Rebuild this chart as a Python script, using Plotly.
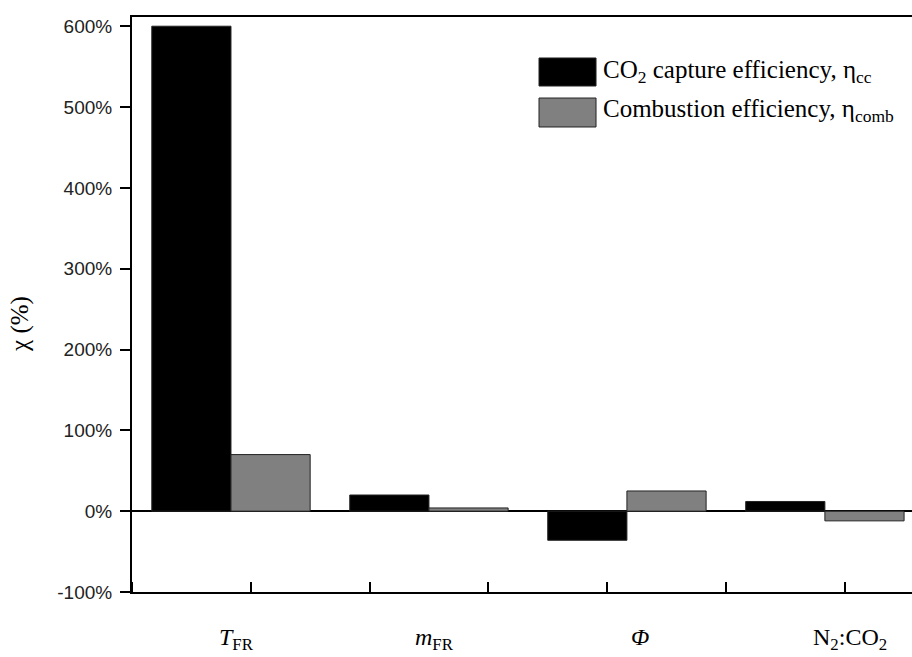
import plotly.graph_objects as go

# ---- data ----
categories = ["<i>T</i><sub>FR</sub>", "<i>m</i><sub>FR</sub>", "<i>Φ</i>", "N<sub>2</sub>:CO<sub>2</sub>"]
cat_pos = [0, 1, 2, 3]
capture_eff = [600, 20, -36, 12]      # CO2 capture efficiency, eta_cc (%)
combustion_eff = [70, 4, 25, -12]     # Combustion efficiency, eta_comb (%)
y_ticks = [-100, 0, 100, 200, 300, 400, 500, 600]
y_tick_labels = ["-100%", "0%", "100%", "200%", "300%", "400%", "500%", "600%"]
series_names = ["CO<sub>2</sub> capture efficiency, η<sub>cc</sub>",
                "Combustion efficiency, η<sub>comb</sub>"]
series_colors = ["#000000", "#808080"]
label_shift = [6, 6, 13, 25]

SERIF = "Liberation Serif, Times New Roman, serif"
SANS = "Liberation Sans, Arial, sans-serif"

fig = go.Figure()
fig.add_trace(go.Bar(x=cat_pos, y=capture_eff, name=series_names[0],
                     marker=dict(color=series_colors[0], line=dict(color="#222222", width=1)),
                     showlegend=False))
fig.add_trace(go.Bar(x=cat_pos, y=combustion_eff, name=series_names[1],
                     marker=dict(color=series_colors[1], line=dict(color="#222222", width=1)),
                     showlegend=False))

# custom legend (large swatches)
sw = [(0.880, 0.9287), (0.8087, 0.8591)]
ty = [0.906, 0.837]
for i in range(2):
    fig.add_shape(type="rect", xref="paper", yref="paper",
                  x0=0.5218, x1=0.5949, y0=sw[i][0], y1=sw[i][1],
                  fillcolor=series_colors[i], line=dict(color="#222222", width=1))
    fig.add_annotation(xref="paper", yref="paper", x=0.6013, y=ty[i],
                       xanchor="left", yanchor="middle", showarrow=False,
                       text=series_names[i], font=dict(family=SERIF, size=25, color="black"))

# category labels
for i, c in enumerate(categories):
    fig.add_annotation(xref="x", yref="paper", x=cat_pos[i], y=-0.052,
                       xanchor="center", yanchor="top", showarrow=False, xshift=label_shift[i],
                       text=c, font=dict(family=SERIF, size=24, color="black"))

# y title
fig.add_annotation(xref="paper", yref="paper", x=-0.143, y=0.467,
                   xanchor="center", yanchor="middle", showarrow=False, textangle=-90,
                   text="χ (%)", font=dict(family=SERIF, size=25, color="black"))

fig.update_layout(
    width=912, height=657,
    margin=dict(l=132, r=0, t=17, b=65),
    paper_bgcolor="white", plot_bgcolor="white",
    barmode="group", bargap=0.2, bargroupgap=0,
    xaxis=dict(range=[-0.5, 3.44], tickmode="array", tickvals=cat_pos, ticktext=["", "", "", ""],
               ticks="", showline=True, linecolor="black", linewidth=2, mirror=True,
               showgrid=False, zeroline=False,
               minor=dict(tickmode="linear", tick0=0.1, dtick=0.6, ticks="inside",
                          ticklen=10, tickwidth=2, tickcolor="black", showgrid=False)),
    yaxis=dict(range=[-100, 611.4], tickmode="array", tickvals=y_ticks, ticktext=y_tick_labels,
               ticks="outside", ticklen=10, tickwidth=2, tickcolor="black",
               showline=True, linecolor="black", linewidth=2, mirror=False,
               showgrid=False, zeroline=True, zerolinecolor="black", zerolinewidth=1.5,
               ticklabelstandoff=4,
               tickfont=dict(family=SANS, size=19, color="#222222")),
)

fig.write_html("out.html")
